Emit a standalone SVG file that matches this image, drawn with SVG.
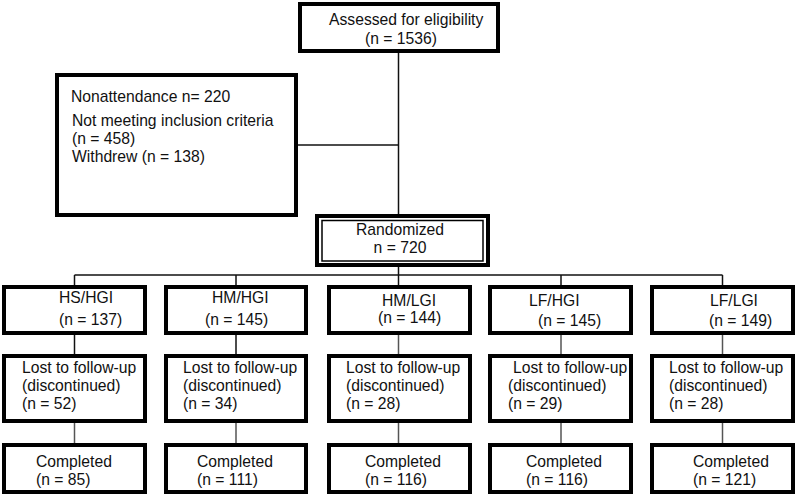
<svg xmlns="http://www.w3.org/2000/svg" width="797" height="497" viewBox="0 0 797 497">
<style>
  text { font-family: "Liberation Sans", Arial, sans-serif; font-size: 15.7px; fill: #111; }
  .c { text-anchor: middle; }
  .box { fill: #fff; stroke: #000; stroke-width: 4; }
  .thin { fill: none; stroke: #000; stroke-width: 1.5; }
  .ln { fill: none; stroke: #111; stroke-width: 1.5; }
  .ln2 { fill: none; stroke: #555; stroke-width: 1.5; }
</style>
<rect x="0" y="0" width="797" height="497" fill="#fff"/>
<g id="connectors">
  <line class="ln" x1="398.5" y1="52" x2="398.5" y2="215"/>
  <line class="ln" x1="297" y1="145" x2="398.5" y2="145"/>
  <line class="ln" x1="398.5" y1="266" x2="398.5" y2="275"/>
  <line class="ln" x1="74.5" y1="275" x2="722.5" y2="275"/>
  <line class="ln" x1="74.5" y1="275" x2="74.5" y2="286"/>
  <line class="ln" x1="236" y1="275" x2="236" y2="286"/>
  <line class="ln" x1="398.5" y1="275" x2="398.5" y2="286"/>
  <line class="ln" x1="561" y1="275" x2="561" y2="286"/>
  <line class="ln" x1="722.5" y1="275" x2="722.5" y2="286"/>
  <line class="ln" x1="74.5" y1="334" x2="74.5" y2="355"/>
  <line class="ln" x1="236" y1="334" x2="236" y2="355"/>
  <line class="ln2" x1="398.5" y1="334" x2="398.5" y2="355"/>
  <line class="ln2" x1="561" y1="334" x2="561" y2="355"/>
  <line class="ln2" x1="722.5" y1="334" x2="722.5" y2="355"/>
  <line class="ln2" x1="74.5" y1="422" x2="74.5" y2="444"/>
  <line class="ln2" x1="236" y1="422" x2="236" y2="444"/>
  <line class="ln2" x1="398.5" y1="422" x2="398.5" y2="444"/>
  <line class="ln2" x1="561" y1="422" x2="561" y2="444"/>
  <line class="ln2" x1="722.5" y1="422" x2="722.5" y2="444"/>
</g>
<g id="assessed">
  <rect class="box" x="300" y="4" width="198" height="47"/>
  <text x="329" y="25">Assessed for eligibility</text>
  <text x="365" y="44">(n = 1536)</text>
</g>
<g id="excluded">
  <rect class="box" x="57" y="75" width="239" height="140"/>
  <text x="71" y="102">Nonattendance n= 220</text>
  <text x="72" y="126">Not meeting inclusion criteria</text>
  <text x="72" y="144">(n = 458)</text>
  <text x="72" y="162">Withdrew (n = 138)</text>
</g>
<g id="randomized">
  <rect class="box" x="317" y="216" width="171" height="49"/>
  <rect class="thin" x="322" y="220.5" width="161" height="40.5"/>
  <text class="c" x="400" y="235">Randomized</text>
  <text class="c" x="400" y="253">n = 720</text>
</g>
<g id="g1">
  <rect class="box" x="4" y="287" width="141" height="46"/>
  <text x="59" y="303">HS/HGI</text>
  <text x="59" y="325">(n = 137)</text>
</g>
<g id="g2">
  <rect class="box" x="166" y="287" width="140" height="46"/>
  <text x="212" y="303">HM/HGI</text>
  <text x="205" y="325">(n = 145)</text>
</g>
<g id="g3">
  <rect class="box" x="329" y="287" width="141" height="46"/>
  <text x="382" y="306">HM/LGI</text>
  <text x="378" y="323">(n = 144)</text>
</g>
<g id="g4">
  <rect class="box" x="490" y="287" width="141" height="46"/>
  <text x="529" y="306">LF/HGI</text>
  <text x="538" y="326">(n = 145)</text>
</g>
<g id="g5">
  <rect class="box" x="652" y="287" width="141" height="46"/>
  <text x="710" y="306">LF/LGI</text>
  <text x="709" y="326">(n = 149)</text>
</g>
<g id="l1">
  <rect class="box" x="4" y="356" width="141" height="65"/>
  <text x="22" y="373">Lost to follow-up</text>
  <text x="22" y="391">(discontinued)</text>
  <text x="22" y="409">(n = 52)</text>
</g>
<g id="l2">
  <rect class="box" x="166" y="356" width="140" height="65"/>
  <text x="183" y="373">Lost to follow-up</text>
  <text x="183" y="391">(discontinued)</text>
  <text x="183" y="409">(n = 34)</text>
</g>
<g id="l3">
  <rect class="box" x="329" y="356" width="141" height="65"/>
  <text x="346" y="373">Lost to follow-up</text>
  <text x="346" y="391">(discontinued)</text>
  <text x="346" y="409">(n = 28)</text>
</g>
<g id="l4">
  <rect class="box" x="490" y="356" width="141" height="65"/>
  <text x="513" y="373">Lost to follow-up</text>
  <text x="508" y="391">(discontinued)</text>
  <text x="508" y="409">(n = 29)</text>
</g>
<g id="l5">
  <rect class="box" x="652" y="356" width="141" height="65"/>
  <text x="669" y="373">Lost to follow-up</text>
  <text x="669" y="391">(discontinued)</text>
  <text x="669" y="409">(n = 28)</text>
</g>
<g id="c1">
  <rect class="box" x="4" y="445" width="141" height="47"/>
  <text x="36" y="467">Completed</text>
  <text x="36" y="485">(n = 85)</text>
</g>
<g id="c2">
  <rect class="box" x="166" y="445" width="140" height="47"/>
  <text x="197" y="467">Completed</text>
  <text x="197" y="485">(n = 111)</text>
</g>
<g id="c3">
  <rect class="box" x="329" y="445" width="141" height="47"/>
  <text x="365" y="467">Completed</text>
  <text x="365" y="485">(n = 116)</text>
</g>
<g id="c4">
  <rect class="box" x="490" y="445" width="141" height="47"/>
  <text x="526" y="467">Completed</text>
  <text x="526" y="485">(n = 116)</text>
</g>
<g id="c5">
  <rect class="box" x="652" y="445" width="141" height="47"/>
  <text x="693" y="467">Completed</text>
  <text x="693" y="485">(n = 121)</text>
</g>
</svg>
